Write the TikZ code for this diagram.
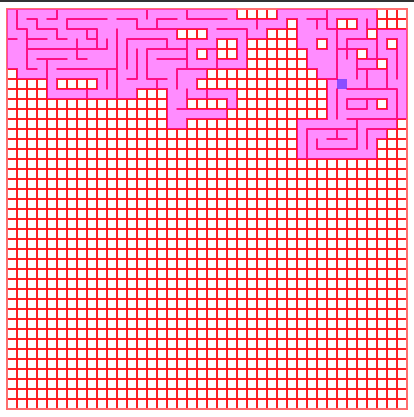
\documentclass[tikz,border=0pt]{standalone}
\definecolor{wallc}{RGB}{255,30,35}
\definecolor{edgec}{RGB}{255,110,110}
\definecolor{visitc}{RGB}{255,0,255}
\definecolor{topbar}{RGB}{50,50,50}
\tikzset{
  wallst/.style={draw=wallc,line width=1.9pt,line cap=round},
  visitst/.style={fill=visitc,fill opacity=0.45},
  curst/.style={fill=blue,fill opacity=0.45},
  borderst/.style={draw=edgec,line width=1.6pt}
}
\newcommand\visitedlist{0/0/22,0/27/36,
1/0/27,1/29/32,1/35/36,
2/0/16,2/20/25,2/29/35,2/37/39,
3/0/20,3/23/23,3/29/30,3/32/37,3/39/39,
4/0/18,4/20/20,4/23/23,4/30/34,4/36/39,
5/0/23,5/30/36,5/38/39,
6/1/19,6/31/39,
7/4/4,7/9/18,7/32/39,
8/4/12,8/16/22,8/32/39,
9/16/17,9/22/22,9/32/36,9/38/39,
10/16/21,10/32/39,
11/16/17,11/29/38,
12/29/37,
13/29/36,
14/29/36}
\newcommand\hwalls{1/2/3,1/4/5,1/6/10,
2/1/2,2/3/5,2/6/9,
3/0/1,3/2/4,3/5/6,3/8/9,
4/2/10,
5/3/6,5/7/8,
6/2/3,6/5/10,
1/11/13,1/15/17,1/18/20,2/13/17,3/12/16,4/14/18,5/15/18,6/10/11,6/17/20,7/12/13,7/14/16,
1/20/22,2/21/24,4/20/21,
8/6/9,9/18/20,10/17/19,
1/30/32,2/32/33,3/34/36,4/33/35,5/36/37,6/35/37,7/32/33,8/34/39,9/34/37,10/34/36,
11/29/32,11/34/39,12/30/35,12/36/38,13/32/34,14/31/35}
\newcommand\vwalls{1/0/2,3/1/2,5/0/1,5/2/3,6/1/2,8/2/3,9/2/4,7/3/5,2/2/6,4/5/8,10/6/8,
14/0/1,13/1/2,15/1/2,18/0/1,11/2/7,10/3/4,16/3/4,12/3/6,13/4/7,14/4/7,18/3/6,15/7/8,17/6/8,
25/1/2,24/2/3,22/4/5,21/5/6,
8/8/9,11/7/9,18/8/9,20/8/9,21/9/10,
32/0/2,31/1/2,36/1/2,33/2/7,34/3/5,37/3/5,39/3/7,35/5/7,36/6/8,38/6/8,
33/8/11,39/8/11,34/9/10,36/9/10,30/12/15,31/13/14,33/12/13,35/11/14,36/12/14}
\begin{document}
\begin{tikzpicture}
\useasboundingbox (0,0) rectangle (414pt,-417pt);
\fill[topbar] (0,0) rectangle (414pt,-2.3pt);
\begin{scope}[x=10pt,y=-10pt,shift={(7pt,-9pt)}]
  \foreach \r/\a/\b in \visitedlist {
    \foreach \c in {\a,...,\b} {\expandafter\gdef\csname mzv:\c:\r\endcsname{1}}
  }
  \foreach \r in {0,...,15} {
    \foreach \c in {0,...,39} {
      \ifcsname mzv:\c:\r\endcsname\else
        \draw[wallst] (\c,\r) rectangle ++(1,1);
      \fi
    }
  }
  \foreach \j in {16,...,40} {\draw[wallst] (0,\j) -- (40,\j);}
  \foreach \i in {0,...,40} {\draw[wallst] (\i,16) -- (\i,40);}
  \foreach \j/\a/\b in \hwalls {\draw[wallst] (\a,\j) -- (\b,\j);}
  \foreach \i/\a/\b in \vwalls {\draw[wallst] (\i,\a) -- (\i,\b);}
  \draw[borderst] (0,0) rectangle (40,40);
  \foreach \r/\a/\b in \visitedlist {
    \fill[visitst] (\a,\r) rectangle (\b+1,\r+1);
  }
  \fill[curst] (33,7) rectangle (34,8);
\end{scope}
\end{tikzpicture}
\end{document}
